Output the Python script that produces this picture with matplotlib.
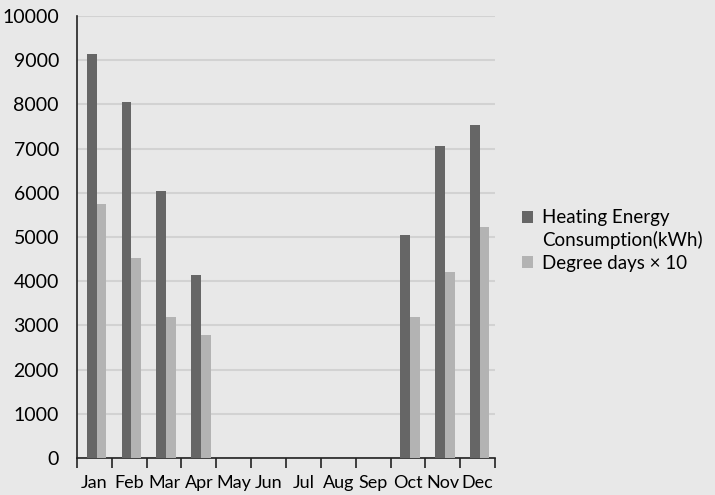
import matplotlib.pyplot as plt
import numpy as np

months = ["Jan", "Feb", "Mar", "Apr", "May", "Jun",
          "Jul", "Aug", "Sep", "Oct", "Nov", "Dec"]
heating_kwh = [9150, 8060, 6050, 4130, 0, 0, 0, 0, 0, 5050, 7060, 7530]
degree_days_x10 = [5750, 4530, 3200, 2780, 0, 0, 0, 0, 0, 3200, 4200, 5230]

plt.rcParams["font.family"] = ["Lato", "DejaVu Sans"]
bg = "#e8e8e8"

fig = plt.figure(figsize=(7.15, 4.95), dpi=100, facecolor=bg)
ax = fig.add_axes([77 / 715, 37 / 495, 418 / 715, 442 / 495], facecolor=bg)

x = np.arange(len(months))
w = 0.28
ax.bar(x - w / 2 + 0.06, heating_kwh, w, color="#666666",
       label="Heating Energy\nConsumption(kWh)", zorder=3)
ax.bar(x + w / 2 + 0.06, degree_days_x10, w, color="#b3b3b3",
       label="Degree days \u00d7 10", zorder=3)

ax.set_xlim(-0.5, 11.5)
ax.set_ylim(0, 10000)
ax.set_yticks(np.arange(0, 10001, 1000))
ax.set_yticks([0], minor=True)
ax.yaxis.grid(True, color="#d2d2d2", linewidth=1.5, zorder=0)

# boundaries between months carry the tick marks, names sit in between
ax.set_xticks(np.arange(-0.5, 12, 1))
ax.set_xticklabels([])
ax.set_xticks(x, months, minor=True)
ax.tick_params(axis="x", which="major", length=7, width=1.2, color="#222222")
ax.tick_params(axis="x", which="minor", length=0, pad=12, labelsize=13)
ax.tick_params(axis="y", which="major", length=0, pad=13, labelsize=14)
ax.tick_params(axis="y", which="minor", length=5, width=1.2, color="#222222")

for side in ["top", "right"]:
    ax.spines[side].set_visible(False)
for side in ["left", "bottom"]:
    ax.spines[side].set_color("#222222")
    ax.spines[side].set_linewidth(1.2)

leg = fig.legend(loc="center left", bbox_to_anchor=(505 / 715, 0.515), frameon=False,
                 fontsize=13.5, handlelength=0.6, handleheight=0.6,
                 handletextpad=0.5, labelspacing=0.3)
plt.setp(leg.get_texts(), linespacing=1.35)
# put the first swatch next to the first line of its two-line label
first = leg.get_patches()[0]
first.set_y(first.get_y() + 9)

fig.savefig("out.png", dpi=100, facecolor=bg)
